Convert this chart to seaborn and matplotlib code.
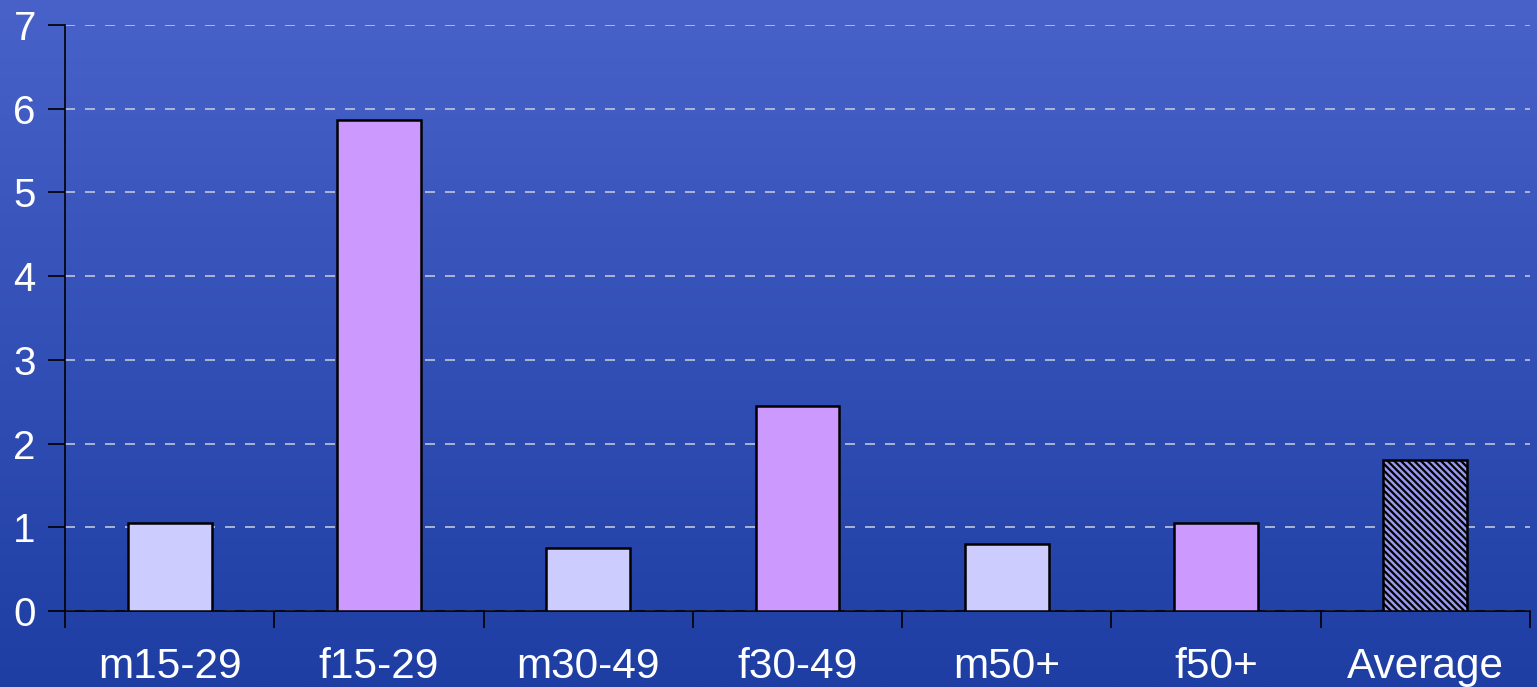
import numpy as np
import pandas as pd
import matplotlib
matplotlib.use("Agg")
import matplotlib.pyplot as plt
import seaborn as sns
from matplotlib.colors import LinearSegmentedColormap

categories = ["m15-29", "f15-29", "m30-49", "f30-49", "m50+", "f50+", "Average"]
values = [1.05, 5.87, 0.75, 2.45, 0.80, 1.05, 1.80]
bar_colors = ["#ccccff", "#cc99ff", "#ccccff", "#cc99ff", "#ccccff", "#cc99ff", "#9a9af0"]
y_ticks = [0, 1, 2, 3, 4, 5, 6, 7]

sns.set_theme(style="white")
plt.rcParams['font.family'] = ['Liberation Sans', 'DejaVu Sans']
plt.rcParams['hatch.linewidth'] = 1.6

fig = plt.figure(figsize=(15.37, 6.87), dpi=100)

# gradient background
bg = fig.add_axes([0, 0, 1, 1], zorder=0)
cmap = LinearSegmentedColormap.from_list("bg", ["#4862c9", "#1e3ea3"])
grad = np.linspace(0, 1, 256).reshape(-1, 1)
bg.imshow(grad, aspect="auto", cmap=cmap, extent=[0, 1, 0, 1], origin="upper")
bg.axis("off")

ax = fig.add_axes([65 / 1537, 1 - 611 / 687, (1530 - 65) / 1537, (611 - 25) / 687], zorder=1)
ax.patch.set_alpha(0)

df = pd.DataFrame({"cat": categories, "val": values})
sns.barplot(data=df, x="cat", y="val", hue="cat", palette=bar_colors, legend=False,
            width=0.4, edgecolor="black", linewidth=1.8, ax=ax, saturation=1)

for p in ax.patches:
    p.set_zorder(3)
ax.patches[-1].set_hatch("\\\\\\\\\\")

ax.set_xlim(-0.5, len(categories) - 0.5)
ax.set_ylim(0, 7)
ax.set_yticks(y_ticks)
ax.set_yticklabels([str(t) for t in y_ticks])
ax.set_xlabel("")
ax.set_ylabel("")

ax.yaxis.grid(True, linestyle=(0, (6, 6)), color="#c0c4dc", linewidth=1.2, zorder=0)
ax.set_axisbelow(True)

for s in ["top", "right"]:
    ax.spines[s].set_visible(False)
for s in ["left", "bottom"]:
    ax.spines[s].set_color("black")
    ax.spines[s].set_linewidth(1.2)

ax.tick_params(axis="y", which="major", direction="out", length=12, width=1.2, color="black",
               labelcolor="white", labelsize=29, pad=9, left=True)
ax.set_xticks(np.arange(len(categories)))
ax.set_xticklabels(categories)
ax.tick_params(axis="x", which="major", length=0, labelcolor="white", labelsize=30.5, pad=26)
ax.set_xticks(np.arange(-0.5, len(categories), 1.0), minor=True)
ax.tick_params(axis="x", which="minor", direction="out", length=12, width=1.2, color="black", bottom=True)

fig.savefig("out.png", dpi=100)
